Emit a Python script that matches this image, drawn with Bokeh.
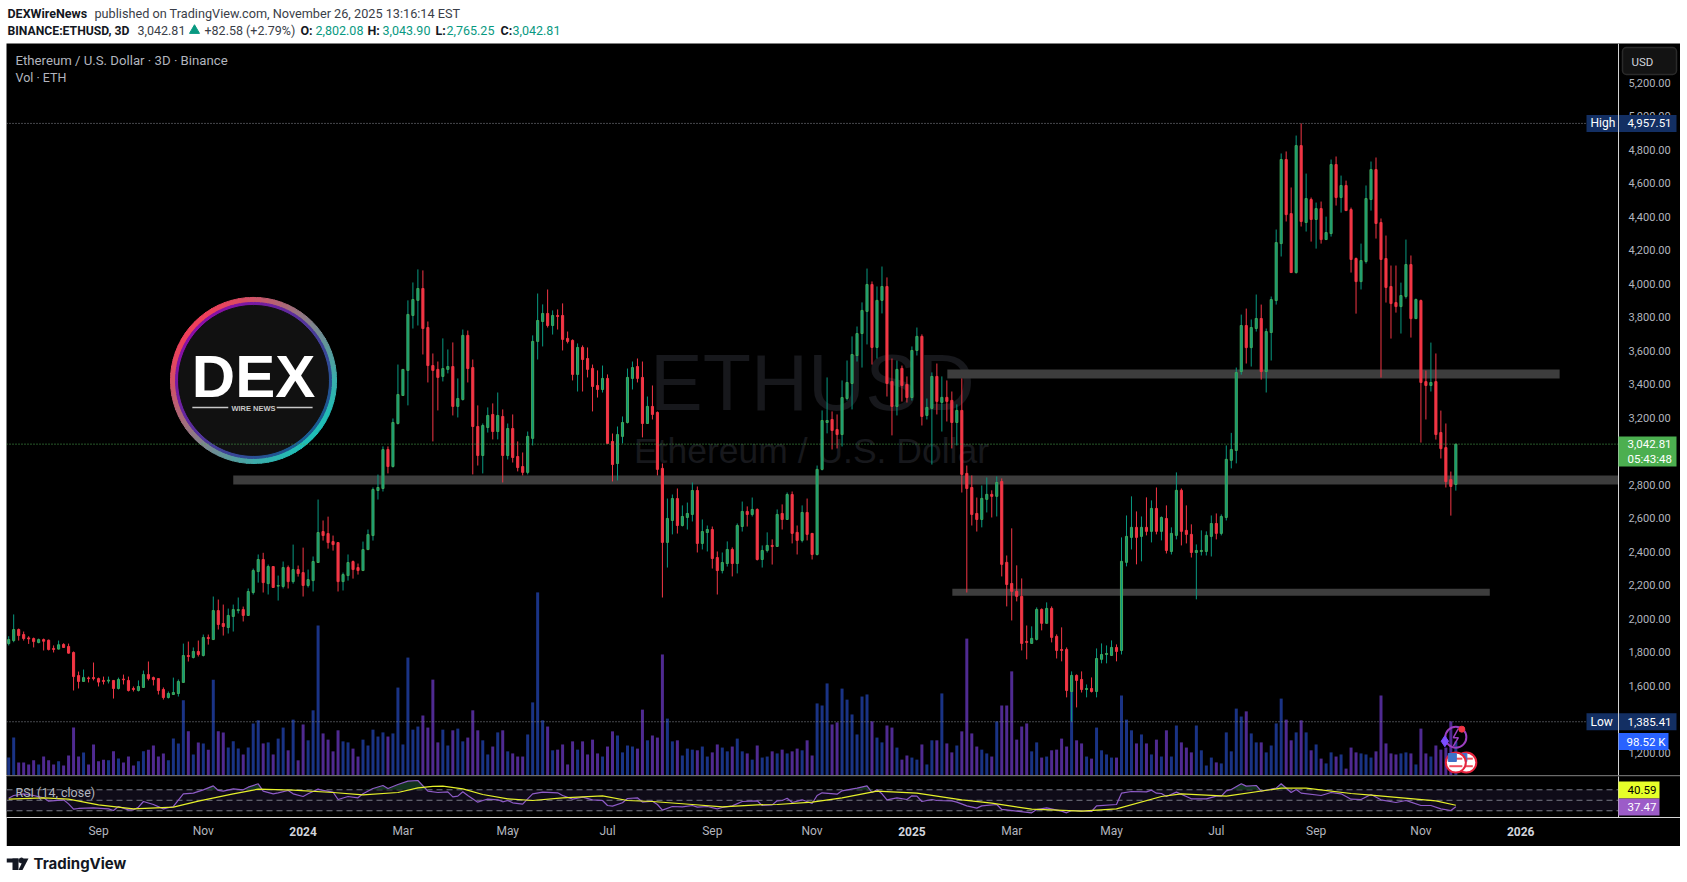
import math

from bokeh.embed import file_html
from bokeh.layouts import column
from bokeh.models import BoxAnnotation, ColumnDataSource, FixedTicker, Label, LinearAxis, NumeralTickFormatter, Range1d, Span
from bokeh.plotting import figure
from bokeh.resources import INLINE

# ETHUSD 3D bars, oldest first
opens = [
    1852, 1870, 1936, 1906, 1886, 1882, 1858, 1876, 1872, 1823,
    1819, 1847, 1835, 1799, 1661, 1626, 1647, 1649, 1643, 1632,
    1628, 1632, 1584, 1640, 1632, 1584, 1572, 1590, 1667, 1649,
    1643, 1578, 1530, 1548, 1554, 1620, 1781, 1769, 1805, 1781,
    1888, 1876, 2049, 1972, 1948, 2014, 2049, 2055, 2020, 2157,
    2282, 2354, 2210, 2312, 2195, 2193, 2306, 2222, 2294, 2276,
    2199, 2228, 2336, 2521, 2509, 2461, 2455, 2222, 2258, 2342,
    2306, 2288, 2413, 2497, 2766, 2778, 3011, 2909, 3166, 3333,
    3483, 3811, 3901, 3972, 3739, 3512, 3489, 3447, 3489, 3506,
    3268, 3309, 3692, 3500, 3148, 2975, 3142, 3220, 3118, 3208,
    2975, 3136, 2969, 2909, 2874, 3077, 3656, 3775, 3823, 3751,
    3811, 3811, 3674, 3662, 3459, 3620, 3554, 3495, 3393, 3369,
    3435, 3059, 2927, 3089, 3172, 3435, 3506, 3441, 3166, 3268,
    3232, 2898, 2456, 2587, 2718, 2557, 2605, 2623, 2766, 2450,
    2515, 2533, 2366, 2288, 2330, 2414, 2330, 2551, 2641, 2623,
    2653, 2354, 2408, 2438, 2432, 2629, 2593, 2742, 2516, 2468,
    2635, 2510, 2384, 2892, 3172, 3190, 3130, 3100, 3315, 3405,
    3572, 3703, 3835, 3996, 3620, 3901, 3984, 3417, 3268, 3495,
    3399, 3321, 3602, 3686, 3214, 3256, 3447, 3292, 3322, 3304,
    3172, 3244, 2868, 2784, 2629, 2593, 2713, 2743, 2731, 2820,
    2337, 2211, 2164, 2134, 1865, 1853, 1877, 2056, 1973, 2062,
    1895, 1817, 1817, 1566, 1662, 1638, 1578, 1584, 1566, 1758,
    1787, 1781, 1829, 1811, 2337, 2486, 2546, 2492, 2546, 2522,
    2659, 2522, 2599, 2402, 2498, 2767, 2528, 2504, 2396, 2402,
    2402, 2492, 2569, 2510, 2605, 2946, 3005, 3476, 3751, 3619,
    3733, 3793, 3476, 3709, 3900, 4240, 4742, 4419, 4067, 4825,
    4366, 4503, 4384, 4449, 4264, 4300, 4712, 4515, 4587, 4443,
    4151, 4013, 4133, 4503, 4682, 4366, 4151, 3984, 3888, 3864,
    3924, 4115, 3792, 3900, 3416, 3393, 3416, 3112, 3022, 2831,
    2802.08,
]
highs = [
    1896, 2026, 1942, 1924, 1896, 1888, 1882, 1882, 1876, 1841,
    1870, 1854, 1852, 1805, 1685, 1697, 1655, 1739, 1649, 1655,
    1655, 1632, 1649, 1667, 1655, 1596, 1632, 1691, 1745, 1655,
    1643, 1590, 1566, 1649, 1638, 1852, 1864, 1829, 1870, 1906,
    1906, 2133, 2115, 2085, 2061, 2085, 2127, 2073, 2181, 2300,
    2384, 2394, 2324, 2312, 2258, 2342, 2318, 2443, 2318, 2425,
    2294, 2372, 2712, 2587, 2610, 2497, 2455, 2276, 2384, 2348,
    2330, 2461, 2533, 2784, 2861, 3029, 3029, 3196, 3518, 3489,
    3901, 4008, 4086, 4080, 3775, 3584, 3536, 3674, 3608, 3650,
    3435, 3727, 3721, 3548, 3274, 3166, 3262, 3286, 3351, 3250,
    3166, 3220, 3059, 2993, 3118, 3692, 3942, 3877, 3966, 3841,
    3847, 3883, 3715, 3668, 3644, 3632, 3620, 3518, 3483, 3512,
    3459, 3106, 3148, 3208, 3494, 3536, 3554, 3536, 3327, 3393,
    3238, 2927, 2718, 2742, 2778, 2677, 2694, 2814, 2790, 2593,
    2557, 2551, 2402, 2396, 2462, 2426, 2569, 2700, 2671, 2724,
    2659, 2438, 2516, 2474, 2653, 2683, 2754, 2760, 2557, 2677,
    2718, 2510, 2915, 3244, 3441, 3238, 3220, 3423, 3542, 3686,
    3745, 3889, 4091, 4014, 3984, 4103, 4038, 3554, 3542, 3512,
    3447, 3626, 3739, 3698, 3315, 3471, 3524, 3447, 3423, 3357,
    3280, 3435, 2915, 2856, 2724, 2796, 2844, 2767, 2850, 2838,
    2378, 2540, 2319, 2241, 1960, 1955, 2068, 2062, 2098, 2074,
    1907, 1949, 1829, 1686, 1668, 1686, 1608, 1650, 1823, 1853,
    1841, 1871, 1847, 2486, 2617, 2731, 2641, 2611, 2725, 2707,
    2784, 2611, 2677, 2546, 2874, 2778, 2677, 2564, 2444, 2528,
    2522, 2617, 2629, 2623, 3035, 3110, 3500, 3816, 3852, 3787,
    3936, 3876, 3733, 3924, 4324, 4778, 4790, 4575, 4885, 4957.51,
    4658, 4515, 4485, 4491, 4401, 4742, 4760, 4646, 4616, 4455,
    4157, 4240, 4587, 4730, 4754, 4390, 4288, 4109, 4109, 4007,
    4264, 4169, 3912, 3906, 3482, 3649, 3584, 3243, 3166, 2879,
    3043.90,
]
lows = [
    1841, 1860, 1870, 1870, 1850, 1829, 1854, 1811, 1811, 1799,
    1817, 1827, 1793, 1572, 1584, 1626, 1620, 1632, 1596, 1608,
    1614, 1524, 1578, 1608, 1566, 1566, 1566, 1590, 1632, 1602,
    1548, 1518, 1524, 1548, 1536, 1620, 1745, 1763, 1775, 1775,
    1846, 1876, 1936, 1900, 1912, 1924, 2032, 1984, 2020, 2145,
    2216, 2157, 2145, 2187, 2109, 2181, 2181, 2210, 2252, 2133,
    2187, 2163, 2336, 2467, 2419, 2407, 2163, 2169, 2228, 2240,
    2264, 2288, 2413, 2467, 2712, 2760, 2868, 2903, 3160, 3333,
    3274, 3733, 3751, 3578, 3411, 3059, 3244, 3417, 3465, 3214,
    3202, 3303, 3411, 2862, 2915, 2868, 3112, 3071, 3071, 2814,
    2951, 2933, 2880, 2856, 2862, 3035, 3548, 3626, 3739, 3697,
    3727, 3602, 3644, 3423, 3357, 3357, 3441, 3238, 3321, 3351,
    3047, 2820, 2826, 3047, 3166, 3369, 3411, 3083, 3166, 3190,
    2856, 2127, 2306, 2504, 2509, 2551, 2533, 2581, 2396, 2414,
    2402, 2300, 2145, 2271, 2312, 2253, 2271, 2521, 2551, 2611,
    2348, 2306, 2396, 2324, 2432, 2533, 2593, 2450, 2384, 2456,
    2468, 2354, 2378, 2886, 3107, 3011, 3017, 3029, 3303, 3250,
    3536, 3500, 3638, 3518, 3554, 3823, 3327, 3095, 3214, 3297,
    3291, 3303, 3572, 3154, 3190, 2921, 3220, 3118, 3178, 3017,
    3035, 2754, 2157, 2557, 2521, 2546, 2635, 2605, 2611, 2253,
    2074, 1990, 2104, 1811, 1758, 1853, 1871, 1931, 1973, 1859,
    1763, 1746, 1531, 1385.41, 1471, 1560, 1531, 1560, 1531, 1734,
    1734, 1781, 1746, 1787, 2313, 2414, 2325, 2343, 2498, 2456,
    2504, 2468, 2390, 2384, 2474, 2438, 2450, 2366, 2116, 2378,
    2378, 2372, 2474, 2498, 2587, 2898, 2928, 3458, 3524, 3506,
    3715, 3428, 3351, 3542, 3876, 4163, 4372, 4067, 4061, 4342,
    4312, 4252, 4210, 4240, 4264, 4282, 4467, 4425, 4437, 4067,
    3822, 3966, 4121, 4437, 4270, 3440, 3888, 3673, 3828, 3703,
    3912, 3679, 3792, 3052, 3190, 3357, 3070, 2957, 2784, 2616,
    2765.25,
]
closes = [
    1876, 1936, 1900, 1882, 1880, 1864, 1876, 1866, 1817, 1817,
    1845, 1829, 1795, 1655, 1626, 1649, 1643, 1643, 1622, 1626,
    1634, 1584, 1638, 1636, 1572, 1578, 1596, 1667, 1643, 1637,
    1572, 1530, 1554, 1560, 1626, 1781, 1775, 1805, 1787, 1888,
    1882, 2049, 1966, 1954, 2020, 2055, 2055, 2020, 2163, 2288,
    2354, 2216, 2312, 2187, 2199, 2306, 2222, 2294, 2270, 2199,
    2234, 2342, 2515, 2497, 2455, 2443, 2222, 2264, 2336, 2294,
    2288, 2413, 2503, 2772, 2784, 3010, 2909, 3172, 3339, 3489,
    3817, 3906, 3972, 3733, 3512, 3483, 3441, 3494, 3506, 3268,
    3315, 3692, 3494, 3148, 2975, 3154, 3214, 3118, 3214, 2975,
    3136, 2963, 2903, 2874, 3089, 3656, 3781, 3823, 3751, 3811,
    3805, 3668, 3656, 3459, 3620, 3548, 3489, 3387, 3369, 3435,
    3047, 2921, 3100, 3172, 3441, 3500, 3435, 3166, 3268, 3220,
    2892, 2456, 2599, 2718, 2557, 2611, 2629, 2766, 2450, 2521,
    2533, 2360, 2288, 2336, 2414, 2330, 2557, 2641, 2623, 2653,
    2354, 2408, 2438, 2432, 2623, 2593, 2742, 2510, 2468, 2635,
    2504, 2384, 2892, 3184, 3184, 3124, 3100, 3321, 3411, 3578,
    3703, 3841, 3996, 3620, 3901, 3984, 3405, 3268, 3489, 3393,
    3321, 3602, 3686, 3208, 3262, 3447, 3298, 3322, 3298, 3172,
    3244, 2862, 2778, 2623, 2593, 2719, 2743, 2731, 2814, 2325,
    2205, 2164, 2134, 1853, 1859, 1883, 2056, 1973, 2062, 1889,
    1811, 1811, 1572, 1662, 1632, 1578, 1584, 1566, 1763, 1787,
    1793, 1829, 1805, 2343, 2492, 2546, 2486, 2546, 2522, 2659,
    2522, 2605, 2408, 2510, 2767, 2522, 2504, 2396, 2408, 2408,
    2498, 2569, 2510, 2611, 2952, 3011, 3470, 3751, 3619, 3739,
    3793, 3476, 3715, 3906, 4246, 4742, 4413, 4067, 4825, 4372,
    4509, 4384, 4449, 4264, 4306, 4712, 4515, 4587, 4437, 4145,
    4013, 4139, 4509, 4682, 4360, 4145, 3978, 3882, 3864, 3930,
    4115, 3792, 3906, 3411, 3393, 3411, 3100, 3016, 2819, 2790,
    3042.81,
]
# volume in thousands of ETH
volumes = [
    52, 110, 38, 38, 32, 44, 32, 55, 44, 32,
    41, 29, 58, 139, 55, 67, 32, 90, 41, 46,
    44, 70, 49, 38, 55, 29, 41, 70, 75, 87,
    55, 64, 44, 107, 93, 218, 128, 61, 96, 93,
    75, 278, 128, 125, 81, 99, 78, 61, 81, 151,
    160, 93, 96, 61, 107, 139, 73, 162, 44, 148,
    102, 189, 435, 122, 104, 70, 131, 99, 96, 78,
    55, 104, 87, 133, 113, 125, 113, 122, 255, 90,
    342, 133, 142, 174, 139, 278, 96, 133, 87, 131,
    136, 99, 110, 189, 131, 102, 61, 84, 125, 131,
    70, 64, 55, 55, 119, 212, 531, 160, 142, 73,
    75, 90, 32, 99, 75, 99, 61, 104, 64, 55,
    84, 128, 116, 67, 87, 84, 78, 191, 102, 116,
    110, 351, 165, 99, 102, 58, 78, 75, 73, 84,
    55, 67, 90, 81, 70, 84, 107, 70, 64, 46,
    87, 52, 55, 70, 64, 75, 64, 70, 78, 73,
    102, 58, 209, 203, 267, 148, 154, 252, 220, 177,
    119, 229, 235, 157, 110, 96, 145, 139, 81, 46,
    58, 52, 46, 90, 32, 102, 102, 238, 93, 67,
    87, 128, 397, 122, 84, 75, 64, 55, 157, 203,
    203, 302, 104, 142, 151, 70, 96, 52, 55, 73,
    75, 107, 84, 247, 102, 93, 55, 49, 139, 73,
    61, 52, 52, 232, 162, 131, 93, 119, 93, 61,
    104, 55, 131, 55, 145, 96, 81, 67, 145, 73,
    29, 52, 38, 35, 125, 70, 194, 171, 186, 122,
    96, 96, 67, 87, 151, 223, 162, 102, 125, 160,
    125, 73, 90, 49, 35, 67, 55, 61, 20, 81,
    67, 64, 61, 52, 70, 232, 93, 64, 61, 64,
    67, 64, 32, 136, 64, 55, 87, 75, 81, 157,
    98.52,
]

# RSI line, vertices only: bar number and value
rsi_bars = [
    0, 1, 3, 5, 7, 8, 11, 12, 13, 14, 17, 20, 21, 22, 24, 25, 26, 27, 29, 31, 33, 35, 37, 39, 41, 42, 43,
    45, 47, 48, 50, 51, 53, 54, 56, 57, 59, 60, 62, 63, 65, 66, 68, 70, 71, 73, 75, 76, 78, 80, 82, 84, 86,
    88, 89, 90, 91, 92, 94, 95, 96, 98, 99, 100, 101, 103, 104, 105, 107, 110, 111, 113, 115, 117, 119, 120,
    121, 123, 124, 126, 127, 129, 130, 131, 133, 135, 137, 138, 140, 142, 143, 145, 147, 150, 151, 153, 154,
    155, 156, 157, 159, 161, 162, 163, 166, 167, 170, 172, 173, 174, 175, 176, 178, 180, 181, 182, 183, 185,
    186, 189, 190, 192, 194, 195, 198, 199, 202, 205, 206, 208, 211, 212, 213, 217, 218, 222, 223, 225, 228,
    229, 230, 231, 232, 234, 236, 237, 240, 242, 243, 244, 245, 247, 248, 250, 251, 254, 255, 257, 258, 259,
    263, 265, 267, 269, 271, 273, 275, 278, 280, 281, 283, 285, 287, 289, 290,
]
rsi_values = [
    54.0, 59.1, 62.3, 59.1, 54.7, 48.3, 50.9, 43.2, 33.1, 34.4, 35.6, 33.7, 30.5, 38.2, 31.8, 31.8, 36.9, 47.7, 42.0, 33.7, 38.2, 62.3, 63.6, 69.9, 77.5, 68.7, 67.4,
    71.8, 69.9, 75.0, 81.4, 67.4, 62.3, 64.2, 68.7, 62.3, 57.2, 62.3, 71.2, 68.7, 65.5, 51.5, 57.2, 54.7, 62.3, 72.5, 78.2, 72.5, 80.1, 86.4, 87.7, 67.4, 64.8,
    66.1, 56.6, 57.9, 66.1, 59.1, 46.4, 49.6, 52.1, 50.9, 47.1, 49.6, 45.2, 42.6, 52.8, 62.3, 65.5, 64.2, 59.1, 52.1, 55.9, 50.9, 49.6, 40.1,
    38.8, 45.2, 53.4, 54.7, 46.4, 48.3, 42.0, 31.2, 38.2, 37.5, 40.1, 36.9, 38.2, 33.7, 36.3, 39.4, 47.7, 49.0, 40.1, 41.3, 49.0,
    49.6, 54.0, 45.8, 50.9, 43.9, 59.1, 64.2, 61.7, 68.0, 73.1, 77.5, 64.8, 69.9, 62.3, 50.9, 54.7, 51.5, 58.5, 57.9, 47.7, 51.5,
    49.6, 49.0, 46.4, 39.4, 35.0, 39.4, 42.0, 32.5, 29.3, 26.1, 32.5, 35.6, 29.3, 26.1, 30.5, 28.6, 39.4, 42.0, 63.6, 66.7, 66.1,
    69.3, 63.6, 62.9, 57.2, 65.5, 57.2, 52.8, 52.8, 57.9, 57.9, 68.0, 70.6, 81.4, 76.9, 78.2, 67.4, 73.1, 81.4, 64.8, 70.6, 63.6,
    59.1, 64.8, 62.3, 52.1, 51.5, 61.0, 50.9, 45.8, 49.6, 46.4, 40.1, 40.1, 33.7, 30.5, 37.47,
]
# RSI moving average, vertices only
ma_bars = [
    0, 7, 12, 18, 25, 33, 38, 45, 50, 57, 65, 71, 78, 82, 85, 87, 91, 95, 100, 105, 111, 119, 124, 129, 137, 143,
    150, 154, 161, 167, 174, 182, 191, 197, 205, 215, 222, 231, 235, 244, 255, 260, 269, 273, 286, 290,
]
ma_values = [
    52.1, 54.7, 52.1, 41.3, 33.7, 36.9, 48.3, 62.3, 71.2, 69.3, 64.8, 60.4, 64.8, 73.7, 76.3, 76.9, 71.8, 61.0, 52.8, 49.6, 54.7, 58.5, 49.6, 47.7, 42.0, 37.5,
    41.3, 42.0, 46.4, 54.7, 67.4, 63.6, 50.9, 44.5, 33.1, 29.3, 33.7, 57.2, 62.3, 57.9, 73.1, 73.1, 62.9, 59.8, 49.0, 40.59,
]

# drawn support / resistance bands: first bar, last bar, bottom, top
band_starts = [45, 188.1, 189.1]
band_ends = [322.6, 310.8, 296.8]
band_bottoms = [2802, 3434, 2137]
band_tops = [2855, 3488, 2179]

month_ticks = {18: "Sep", 39: "Nov", 79: "Mar", 100: "May", 120: "Jul", 141: "Sep", 161: "Nov",
               201: "Mar", 221: "May", 242: "Jul", 262: "Sep", 283: "Nov"}
year_ticks = {59: "2024", 181: "2025", 303: "2026"}
price_ticks = list(range(1200, 5400, 200))

HIGH = 4957.51
LOW = 1385.41
LAST = 3042.81
LAST_VOL = 98.52

GREEN = "#089981"
RED = "#f23645"
AXIS = "#d6d6d6"
GREY = "#b2b5be"
FONT = "Roboto"

TOTAL_W = 1674
# bar number at the left edge, at the price scale line, and at the right edge of the black area
BAR_LEFT = -0.44
BAR_SCALE = 322.6
BAR_RIGHT = 335.02


def text(p, x, y, s, size=13, color=GREY, bold=False, align="left", font=FONT, y_units="canvas", level="annotation"):
    p.add_layout(Label(x=x, y=y, x_units="canvas", y_units=y_units, text=s, text_font=font, text_font_size=f"{size}px",
                       text_color=color, text_font_style="bold" if bold else "normal", text_align=align,
                       text_baseline="middle", level=level))


def blank(height, bg):
    f = figure(width=TOTAL_W, height=height, output_backend="svg", toolbar_location=None,
               x_axis_location=None, y_axis_location=None, x_range=Range1d(0, TOTAL_W), y_range=Range1d(height, 0),
               min_border=0, background_fill_color=bg, border_fill_color=bg, outline_line_color=None)
    f.grid.visible = False
    return f


def tag(f, left, right_edge, bottom, top, color, units="canvas", **kw):
    f.add_layout(BoxAnnotation(left=left, right=right_edge, left_units="canvas", right_units="canvas",
                               top=top, bottom=bottom, top_units=units, bottom_units=units,
                               fill_color=color, fill_alpha=1, line_color=None, **kw))


# --- header lines
head = blank(43, "white")
DARK = "#131722"
SOFT = "#3a3e48"
text(head, 1, 12.5, "DEXWireNews", 12.5, DARK, True)
text(head, 88, 12.5, "published on TradingView.com, November 26, 2025 13:16:14 EST", 12.7, SOFT)
text(head, 1, 30, "BINANCE:ETHUSD, 3D", 12.2, DARK, True)
text(head, 131, 30, "3,042.81", 12.5, SOFT)
head.scatter([188], [30], marker="triangle", size=10, color=GREEN)
text(head, 198, 30, "+82.58 (+2.79%)", 12.5, SOFT)
for x_lab, lab, x_val, val in [(294, "O:", 309, "2,802.08"), (361, "H:", 376, "3,043.90"),
                               (429, "L:", 440, "2,765.25"), (494, "C:", 506, "3,042.81")]:
    text(head, x_lab, 30, lab, 12.5, DARK, True)
    text(head, x_val, 30, val, 12.5, GREEN)

# --- price pane
p = figure(frame_width=TOTAL_W, frame_height=732, output_backend="svg", toolbar_location=None,
           x_axis_location=None, y_axis_location=None,
           x_range=Range1d(BAR_LEFT, BAR_RIGHT), y_range=Range1d(1064.5, 5434.6),
           min_border=0, background_fill_color="black", border_fill_color="black", outline_line_color=None)
p.grid.visible = False
p.extra_y_ranges = {"vol": Range1d(0, 2122.8)}

# labels pulled back over the black area so that the price tags can sit on top of them
right = LinearAxis(ticker=FixedTicker(ticks=price_ticks), formatter=NumeralTickFormatter(format="0,0.00"), axis_line_color=None,
                   major_tick_line_color=None, minor_tick_line_color=None, major_label_standoff=-58,
                   major_label_text_color=GREY, major_label_text_font=FONT, major_label_text_font_size="11px")
p.add_layout(right, "right")

# faint watermark behind the bars
text(p, 806, 339, "ETHUSD", 79, "#17181c", align="center", font="Liberation Sans", level="underlay")
text(p, 805, 407, "Ethereum / U.S. Dollar", 35.5, "#17181c", align="center", font="Liberation Sans", level="underlay")

bars = list(range(len(closes)))
up = [c >= o for o, c in zip(opens, closes)]
src = ColumnDataSource(dict(
    x=bars, o=opens, h=highs, l=lows, c=closes, v=volumes,
    body_top=[max(o, c) for o, c in zip(opens, closes)],
    body_bottom=[min(o, c) for o, c in zip(opens, closes)],
    color=[GREEN if u else RED for u in up],
    edge=["#43a85a" if u else RED for u in up],
    vol_color=["#1a3385" if u else "#4f2a91" for u in up],
))

p.quad(left=band_starts, right=band_ends, bottom=band_bottoms, top=band_tops, fill_color="#3d3d3d", line_color=None)

# round logo upper left
logo_x, logo_y = 49.06, 3423
for k in range(72):
    a0 = math.radians(k * 5)
    a1 = math.radians(k * 5 + 5.6)
    t = (1 + (math.cos(a0) - math.sin(a0)) / math.sqrt(2)) / 2
    outer = tuple(int(u + (v - u) * t) for u, v in zip((240, 64, 90), (31, 191, 184)))
    inner = tuple(int(u + (v - u) * t) for u, v in zip((138, 15, 168), (26, 90, 144)))
    p.annular_wedge([logo_x], [logo_y], inner_radius=78, outer_radius=83, inner_radius_units="screen", outer_radius_units="screen",
                    start_angle=a0, end_angle=a1, color="#%02x%02x%02x" % outer)
    p.annular_wedge([logo_x], [logo_y], inner_radius=75, outer_radius=78, inner_radius_units="screen", outer_radius_units="screen",
                    start_angle=a0, end_angle=a1, color="#%02x%02x%02x" % inner)
p.scatter([logo_x], [logo_y], size=150, color="#111111")
p.segment([36.8, 53.7], [3262, 3262], [44.0, 60.9], [3262, 3262], line_color="#c8c8c8", line_width=1.5)
text(p, 247, 333, "DEX", 60, "white", True, align="center", font="Liberation Sans")
text(p, 247, 365, "WIRE NEWS", 7.5, "#c8c8c8", True, align="center", font="Liberation Sans")

p.vbar(x="x", top="v", bottom=0, width=0.6, fill_color="vol_color", line_color=None, y_range_name="vol", source=src)
p.segment(x0="x", y0="l", x1="x", y1="h", line_color="color", line_width=1, source=src)
p.vbar(x="x", top="body_top", bottom="body_bottom", width=0.42, fill_color="color", line_color="edge", line_width=1, source=src)

# dotted high, low and last price lines
p.segment([BAR_LEFT, BAR_LEFT], [HIGH, LOW], [316.2, 316.2], [HIGH, LOW], line_color="#8a8d96", line_width=1, line_dash="1 2")
p.segment([BAR_LEFT], [LAST], [BAR_SCALE], [LAST], line_color="#4caf50", line_width=1, line_dash="1 2")

# event markers next to the last bar
p.scatter([290], [1293], size=21, fill_color=None, line_color="#9c3fc0", line_width=2)
p.line([290.5, 289.5, 290.5, 289.5], [1345, 1290, 1290, 1240], line_color="#9c3fc0", line_width=1.5)
p.scatter([287.8], [1269], marker="diamond", size=11, color="#7c4dff")
p.scatter([291.2], [1341], size=6, color=RED)
for fx in [292.1, 290]:
    p.scatter([fx], [1142], size=20, fill_color="white", line_color="#e5233d", line_width=2)
    p.segment([fx - 1.3, fx - 1.3], [1120, 1165], [fx + 1.3, fx + 1.3], [1120, 1165], line_color="#f0505f", line_width=2)
    p.scatter([fx - 0.7], [1172], marker="square", size=8, color="#3f72c8")

text(p, 9, 17, "Ethereum / U.S. Dollar · 3D · Binance", 13.2)
text(p, 9, 34, "Vol · ETH", 12.5)

NAVY = "#132f63"
PX = 5.97  # dollars per pixel, used to size the tags round a price
for level_price, name, val in [(HIGH, "High", "4,957.51"), (LOW, "Low", "1,385.41")]:
    tag(p, 1580, 1670, level_price - 8.5 * PX, level_price + 8.5 * PX, NAVY, units="data")
    text(p, 1584, level_price, name, 12, "white", y_units="data")
    text(p, 1621, level_price, val, 11.5, "white", y_units="data")

p.add_layout(Span(location=BAR_SCALE, dimension="height", line_color=AXIS, line_width=1))

tag(p, 1612, 1670, LAST - 22.4 * PX, LAST + 7.6 * PX, "#4caf50", units="data")
text(p, 1621, LAST, "3,042.81", 11.5, "white", y_units="data")
text(p, 1621, LAST - 15 * PX, "05:43:48", 11.5, "white", y_units="data")

tag(p, 1612, 1662, LAST_VOL - 24.6, LAST_VOL + 24.6, "#2962ff", units="data", y_range_name="vol")
text(p, 1620, 698, "98.52 K", 11.5, "white")

p.add_layout(BoxAnnotation(left=1616, right=1670, top=4, bottom=31, left_units="canvas", right_units="canvas", top_units="canvas",
                           bottom_units="canvas", fill_color="#131313", fill_alpha=1, line_color="#2a2a2a", line_alpha=1, line_width=1.5, border_radius=4))
text(p, 1625, 18, "USD", 11.5, "#d1d4dc")

# --- RSI pane with the time axis under it
r = figure(frame_width=TOTAL_W, frame_height=42, output_backend="svg", toolbar_location=None,
           x_axis_location=None, y_axis_location=None,
           x_range=p.x_range, y_range=Range1d(17.2, 97.2),
           min_border=0, min_border_bottom=29,
           background_fill_color="black", border_fill_color="black", outline_line_color=None)
r.grid.visible = False
r.add_layout(BoxAnnotation(right=BAR_SCALE, top=70, bottom=30, fill_color="#0f0b18", fill_alpha=1, line_color=None, level="underlay"))
r.segment([BAR_LEFT] * 3, [70, 50, 30], [BAR_SCALE] * 3, [70, 50, 30], line_color="#787b86", line_width=1, line_dash="6 4")
r.varea(x=rsi_bars, y1=[70] * len(rsi_values), y2=[max(v, 70) for v in rsi_values], fill_color="#14331f")
r.line(rsi_bars, rsi_values, line_color="#8e5bc7", line_width=1.2)
r.line(ma_bars, ma_values, line_color="#e6f02a", line_width=1.2)
r.add_layout(Span(location=BAR_SCALE, dimension="height", line_color=AXIS, line_width=1))

months = LinearAxis(ticker=FixedTicker(ticks=list(month_ticks)), major_label_overrides=month_ticks, axis_line_color=AXIS,
                    axis_line_width=1, major_tick_line_color=None, minor_tick_line_color=None, major_label_standoff=0,
                    major_label_text_color=GREY, major_label_text_font=FONT, major_label_text_font_size="12px")
years = LinearAxis(ticker=FixedTicker(ticks=list(year_ticks)), major_label_overrides=year_ticks, axis_line_color=None,
                   major_tick_line_color=None, minor_tick_line_color=None, major_label_standoff=-20,
                   major_label_text_color="#d1d4dc", major_label_text_font=FONT, major_label_text_font_style="bold",
                   major_label_text_font_size="12px")
r.add_layout(months, "below")
r.add_layout(years, "below")

text(r, 9, 17, "RSI (14, close)", 12.5)
tag(r, 1612, 1653, 6, 23, "#e6ff29")
text(r, 1621, 14.5, "40.59", 11.5, "black")
tag(r, 1612, 1653, 23, 40, "#9c5cc8")
text(r, 1621, 31.5, "37.47", 11.5, "white")
tag(r, 0, TOTAL_W, 0, 1, "#333333")

# --- footer with the TradingView mark
foot = blank(30, "white")
foot.quad(left=[0, 6], right=[12, 12], top=[12, 12], bottom=[16, 23.5], fill_color=DARK, line_color=None)
foot.scatter([15], [14], size=5, color=DARK)
foot.patch([17.5, 22, 16, 12], [12, 12, 23.5, 23.5], fill_color=DARK, line_color=None)
text(foot, 27, 17, "TradingView", 15, DARK, True, font="Inter")

layout = column(head, p, r, foot, spacing=0, margin=(0, 0, 0, 6))

open("out.html", "w").write(file_html(layout, INLINE))
